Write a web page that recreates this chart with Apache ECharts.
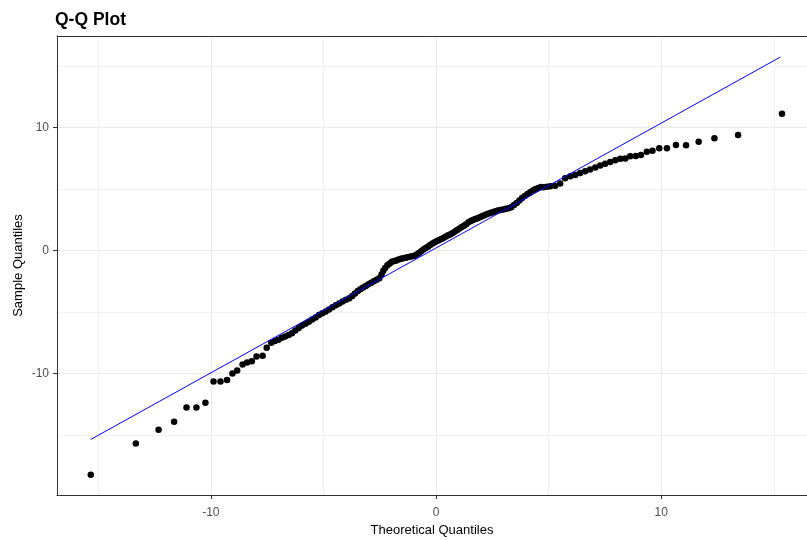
<!DOCTYPE html>
<html>
<head>
<meta charset="utf-8">
<script src="https://cdn.jsdelivr.net/npm/echarts@6/dist/echarts.min.js"></script>
<style>html,body{margin:0;padding:0;background:#fff}#c{width:807px;height:540px}</style>
</head>
<body>
<div id="c"></div>
<script>
const titleText = 'Q-Q Plot';
const xName = 'Theoretical Quantiles';
const yName = 'Sample Quantiles';
const xTicks = [-10, 0, 10];
const yTicks = [-10, 0, 10];
const xRange = [-16.83, 16.47];
const yRange = [-19.89, 17.46];

const theoretical = [
-15.33,-13.33,-12.32,-11.63,-11.08,-10.64,-10.24,-9.88,-9.57,-9.28,-9.04,-8.83,-8.59,-8.39,-8.18,-7.97,-7.70,-7.52,-7.32,
-7.15,-7.0,-6.85,-6.7,-6.55,-6.4,-6.25,-6.1,-5.95,-5.8,-5.65,-5.5,-5.35,-5.2,-5.05,-4.9,-4.75,-4.6,-4.45,-4.3,-4.15,-4.0,
-3.85,-3.72,-3.6,-3.48,-3.36,-3.24,-3.12,-3.0,-2.88,-2.76,-2.64,-2.52,-2.42,-2.34,-2.26,-2.16,-2.06,-1.96,-1.86,-1.76,
-1.66,-1.56,-1.46,-1.36,-1.26,-1.16,-1.06,-0.96,-0.86,-0.76,-0.66,-0.56,-0.46,-0.36,-0.26,-0.16,-0.06,0.04,0.14,0.24,
0.34,0.44,0.54,0.64,0.74,0.84,0.94,1.04,1.14,1.24,1.34,1.44,1.54,1.64,1.74,1.84,1.94,2.04,2.14,2.24,2.34,2.44,2.54,
2.64,2.74,2.86,2.98,3.1,3.22,3.34,3.46,3.58,3.7,3.82,3.94,4.06,4.18,4.3,4.42,4.54,4.66,
4.76,4.92,5.07,5.29,5.51,5.73,5.96,6.18,6.4,6.62,6.84,7.07,7.29,7.51,7.73,7.96,8.18,8.4,8.62,8.87,9.10,9.36,9.61,9.91,
10.25,10.65,11.10,11.66,12.36,13.41,15.36
];
const sample = [
-18.24,-15.69,-14.58,-13.93,-12.76,-12.76,-12.38,-10.65,-10.65,-10.54,-10.0,-9.76,-9.27,-9.11,-9.0,-8.62,-8.56,-7.91,-7.50,
-7.35,-7.25,-7.1,-7.0,-6.88,-6.72,-6.5,-6.3,-6.1,-5.95,-5.8,-5.6,-5.45,-5.25,-5.1,-4.95,-4.8,-4.62,-4.45,-4.3,-4.15,-4.0,
-3.87,-3.7,-3.5,-3.3,-3.15,-3.0,-2.88,-2.75,-2.62,-2.5,-2.38,-2.25,-1.95,-1.65,-1.42,-1.2,-1.05,-0.92,-0.85,-0.8,
-0.72,-0.66,-0.62,-0.58,-0.54,-0.5,-0.47,-0.42,-0.32,-0.2,-0.05,0.08,0.2,0.32,0.45,0.58,0.68,0.78,0.86,0.95,
1.05,1.15,1.25,1.32,1.42,1.55,1.68,1.8,1.92,2.02,2.15,2.3,2.4,2.48,2.56,2.64,2.72,2.8,2.88,2.95,3.02,3.08,3.14,
3.2,3.26,3.3,3.35,3.4,3.45,3.52,3.7,3.88,4.08,4.28,4.45,4.6,4.75,4.88,5.0,5.1,5.18,
5.15,5.2,5.23,5.28,5.45,5.88,6.04,6.15,6.31,6.45,6.59,6.75,6.93,7.07,7.21,7.34,7.48,7.5,7.67,7.70,7.78,8.05,8.13,8.32,
8.32,8.59,8.56,8.86,9.13,9.41,11.14
];
const lineX = [-15.33, 15.29];
const lineY = [-15.37, 15.75];

const pts = theoretical.map((x, i) => [x, sample[i]]);
const linePts = lineX.map((x, i) => [x, lineY[i]]);

const font = '"Liberation Sans", Arial, sans-serif';
const gridLine = {show: true, lineStyle: {color: '#EBEBEB', width: 1}};
const minorGrid = {show: true, lineStyle: {color: '#EBEBEB', width: 0.7}};
const chart = echarts.init(document.getElementById('c'), null, {renderer: 'canvas'});
chart.setOption({
  animation: false,
  backgroundColor: '#fff',
  title: {
    text: titleText, left: 55, top: 11, padding: 0,
    textStyle: {fontFamily: font, fontSize: 17.5, fontWeight: 'bold', color: '#000'}
  },
  grid: {
    left: 57, right: 0, top: 36, bottom: 45, show: false,
    outerBoundsMode: 'none', containLabel: false
  },
  xAxis: [{
    type: 'value', min: xRange[0], max: xRange[1], minInterval: 10, maxInterval: 10,
    name: xName, nameLocation: 'middle', nameGap: 29, nameMoveOverlap: false,
    nameTextStyle: {fontFamily: font, fontSize: 13, color: '#000'},
    axisLine: {show: true, onZero: false, lineStyle: {color: '#333333', width: 1}},
    axisTick: {show: true, length: 4, customValues: xTicks, lineStyle: {color: '#333333'}},
    axisLabel: {customValues: xTicks, margin: 12, fontFamily: font, fontSize: 12, color: '#4D4D4D'},
    splitLine: gridLine,
    minorTick: {show: false, splitNumber: 2},
    minorSplitLine: minorGrid
  }, {
    type: 'value', position: 'top', min: xRange[0], max: xRange[1],
    axisLine: {show: true, onZero: false, lineStyle: {color: '#333333', width: 1}},
    axisTick: {show: false}, axisLabel: {show: false}, splitLine: {show: false}
  }],
  yAxis: {
    type: 'value', min: yRange[0], max: yRange[1], minInterval: 10, maxInterval: 10,
    name: yName, nameLocation: 'middle', nameGap: 32, nameMoveOverlap: false,
    nameTextStyle: {fontFamily: font, fontSize: 13, color: '#000'},
    axisLine: {show: true, onZero: false, lineStyle: {color: '#333333', width: 1}},
    axisTick: {show: true, length: 4, customValues: yTicks, lineStyle: {color: '#333333'}},
    axisLabel: {customValues: yTicks, margin: 8, fontFamily: font, fontSize: 12, color: '#4D4D4D'},
    splitLine: gridLine,
    minorTick: {show: false, splitNumber: 2},
    minorSplitLine: minorGrid
  },
  series: [
    {
      type: 'scatter', data: pts, symbol: 'circle', symbolSize: 6.5,
      itemStyle: {color: '#000', opacity: 1}, z: 2, silent: true
    },
    {
      type: 'line', data: linePts, showSymbol: false, symbol: 'none',
      lineStyle: {color: '#0000FF', width: 1}, z: 3, silent: true
    }
  ]
});
</script>
</body>
</html>
